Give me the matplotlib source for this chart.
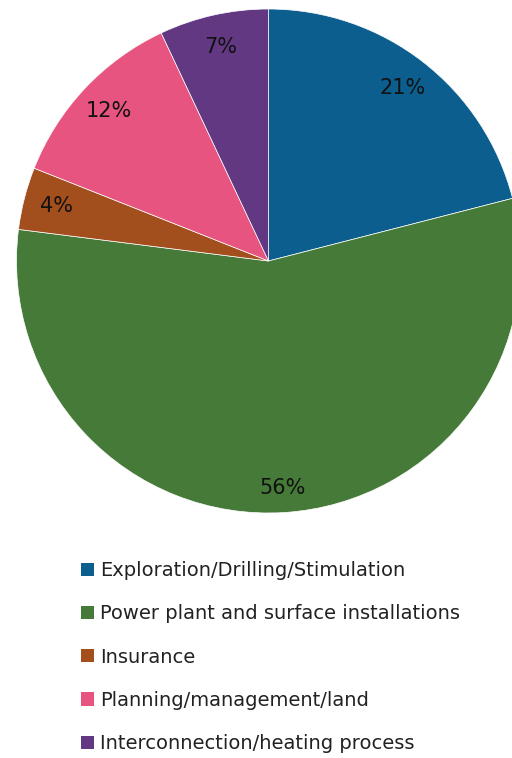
import matplotlib.pyplot as plt
from matplotlib.patches import Patch

categories = [
    "Exploration/Drilling/Stimulation",
    "Power plant and surface installations",
    "Insurance",
    "Planning/management/land",
    "Interconnection/heating process",
]
shares = [21, 56, 4, 12, 7]
colors = ["#0b5e8e", "#467a39", "#a24e1d", "#e75480", "#623882"]

plt.rcParams["font.family"] = ["DejaVu Sans"]

fig = plt.figure(figsize=(5.12, 7.58), dpi=100)
# square pie box, slightly wider than the figure on the right
ax = fig.add_axes([16.5 / 512, 1 - 513 / 758, 504 / 512, 504 / 758])
wedges, texts, autotexts = ax.pie(
    shares, colors=colors, startangle=90, counterclock=False,
    autopct="%d%%", pctdistance=0.87,
    wedgeprops=dict(edgecolor="white", linewidth=0.5),
    textprops=dict(fontsize=15, color="#111111"),
)
autotexts[1].set_position((autotexts[1].get_position()[0], -0.9))
ax.set_xlim(-1, 1)
ax.set_ylim(-1, 1)
ax.set_aspect("auto")

handles = [Patch(facecolor=c, edgecolor="none") for c in colors]
fig.legend(handles, categories, loc="upper left",
           bbox_to_anchor=(81 / 512, 1 - 561 / 758), frameon=False,
           borderpad=0, borderaxespad=0,
           fontsize=14, handlelength=0.68, handleheight=0.68,
           handletextpad=0.32, labelspacing=1.25, labelcolor="#222222")

fig.savefig("out.png", dpi=100)
